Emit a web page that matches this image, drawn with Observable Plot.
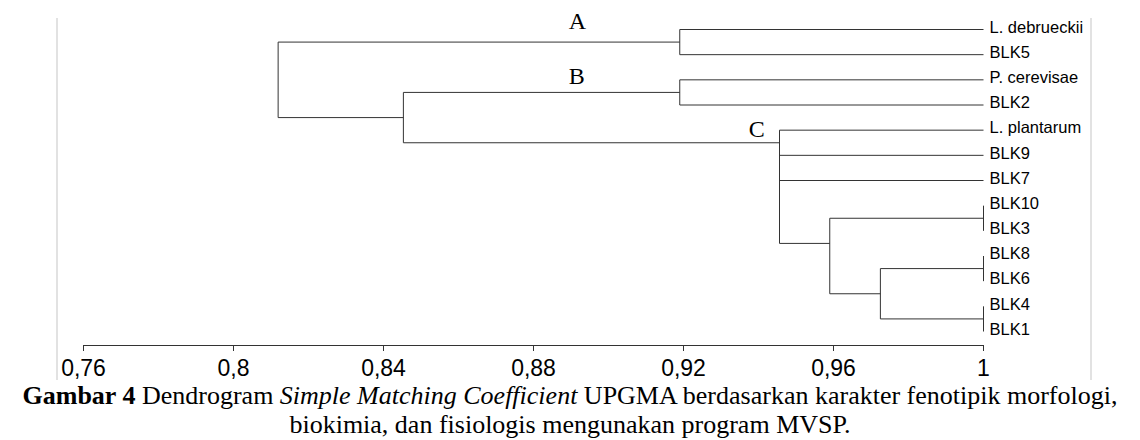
<!DOCTYPE html>
<html>
<head>
<meta charset="utf-8">
<script src="https://cdn.jsdelivr.net/npm/d3@7"></script>
<script src="https://cdn.jsdelivr.net/npm/@observablehq/plot@0.6"></script>
<style>
  html, body { margin: 0; padding: 0; background: #fff; }
  #wrap { position: relative; width: 1140px; height: 440px; overflow: hidden; }
  #frame { position: absolute; left: 56px; top: 18px; width: 1032px; height: 362px;
           border-left: 2px solid #e2e2e2; border-right: 2px solid #e2e2e2; }
  #chart { position: absolute; left: 0; top: 0; }
  #caption { position: absolute; left: 0; top: 381px; width: 1140px; text-align: center;
             font-family: "Liberation Serif", "Times New Roman", serif; font-size: 26px;
             line-height: 29px; color: #000; }
  #caption div { white-space: nowrap; }
</style>
</head>
<body>
<div id="wrap">
  <div id="frame"></div>
  <div id="chart"></div>
  <div id="caption">
    <div><b>Gambar 4</b> Dendrogram <i>Simple Matching Coefficient</i> UPGMA berdasarkan karakter fenotipik morfologi,</div>
    <div>biokimia, dan fisiologis mengunakan program MVSP.</div>
  </div>
</div>
<script>
// Leaves, top to bottom
const leaves = ["L. debrueckii", "BLK5", "P. cerevisae", "BLK2", "L. plantarum", "BLK9", "BLK7",
                "BLK10", "BLK3", "BLK8", "BLK6", "BLK4", "BLK1"];
// Merge nodes (children listed before parents)
const nodeIds = ["A", "B", "E", "G", "H", "F", "D", "C", "BC", "R"];
const nodeChildren = [
  ["L. debrueckii", "BLK5"],
  ["P. cerevisae", "BLK2"],
  ["BLK10", "BLK3"],
  ["BLK8", "BLK6"],
  ["BLK4", "BLK1"],
  ["G", "H"],
  ["E", "F"],
  ["L. plantarum", "BLK9", "BLK7", "D"],
  ["B", "C"],
  ["A", "BC"]
];
const nodeSimilarity = [0.919, 0.919, 1, 1, 1, 0.9725, 0.959, 0.9456, 0.8453, 0.8119];
// Axis ticks
const tickValues = [0.76, 0.8, 0.84, 0.88, 0.92, 0.96, 1];
const tickLabels = ["0,76", "0,8", "0,84", "0,88", "0,92", "0,96", "1"];
// Cluster letters
const clusterLetters = ["A", "B", "C"];
const clusterX = [0.8917, 0.8915, 0.9395];
const clusterRow = [-0.32, 1.87, 3.97];

// Build dendrogram segments
const info = new Map();
leaves.forEach((name, i) => info.set(name, {h: 1, stem: i, first: i, last: i}));
const segments = [];
nodeIds.forEach((id, k) => {
  const kids = nodeChildren[k].map(c => info.get(c));
  const h = nodeSimilarity[k];
  const stems = kids.map(c => c.stem);
  segments.push({x1: h, x2: h, y1: d3.min(stems), y2: d3.max(stems)});
  kids.forEach(c => {
    if (c.h !== h) segments.push({x1: h, x2: c.h, y1: c.stem, y2: c.stem});
  });
  info.set(id, {h, stem: kids[0].last + 0.5, first: kids[0].first, last: kids[kids.length - 1].last});
});
const leafData = leaves.map((name, i) => ({name, row: i, x: 1}));
const letterData = clusterLetters.map((t, i) => ({t, x: clusterX[i], row: clusterRow[i]}));

const chart = Plot.plot({
  width: 1140,
  height: 390,
  marginLeft: 83,
  marginRight: 157,
  marginTop: 0,
  marginBottom: 45,
  x: {domain: [0.76, 1]},
  y: {domain: [0, leaves.length - 1], range: [29, 331], axis: null},
  style: {fontFamily: "Liberation Sans, Arial, sans-serif", background: "transparent", overflow: "visible"},
  marks: [
    Plot.link(segments, {x1: "x1", y1: "y1", x2: "x2", y2: "y2", stroke: "#333", strokeWidth: 1}),
    Plot.text(leafData, {x: "x", y: "row", text: "name", textAnchor: "start", dx: 6, dy: -2,
                          fontSize: 16.5, fill: "#000"}),
    Plot.text(letterData, {x: "x", y: "row", text: "t", fontSize: 24, fill: "#000",
                           fontFamily: "Liberation Serif, Times New Roman, serif"}),
    Plot.frame({anchor: "bottom", stroke: "#333"}),
    Plot.axisX({ticks: tickValues, tickFormat: (d, i) => tickLabels[i], tickSize: 6, tickPadding: 8,
                fontSize: 23, stroke: "#333", fill: "#000", label: null})
  ]
});
document.getElementById("chart").appendChild(chart);
</script>
</body>
</html>
